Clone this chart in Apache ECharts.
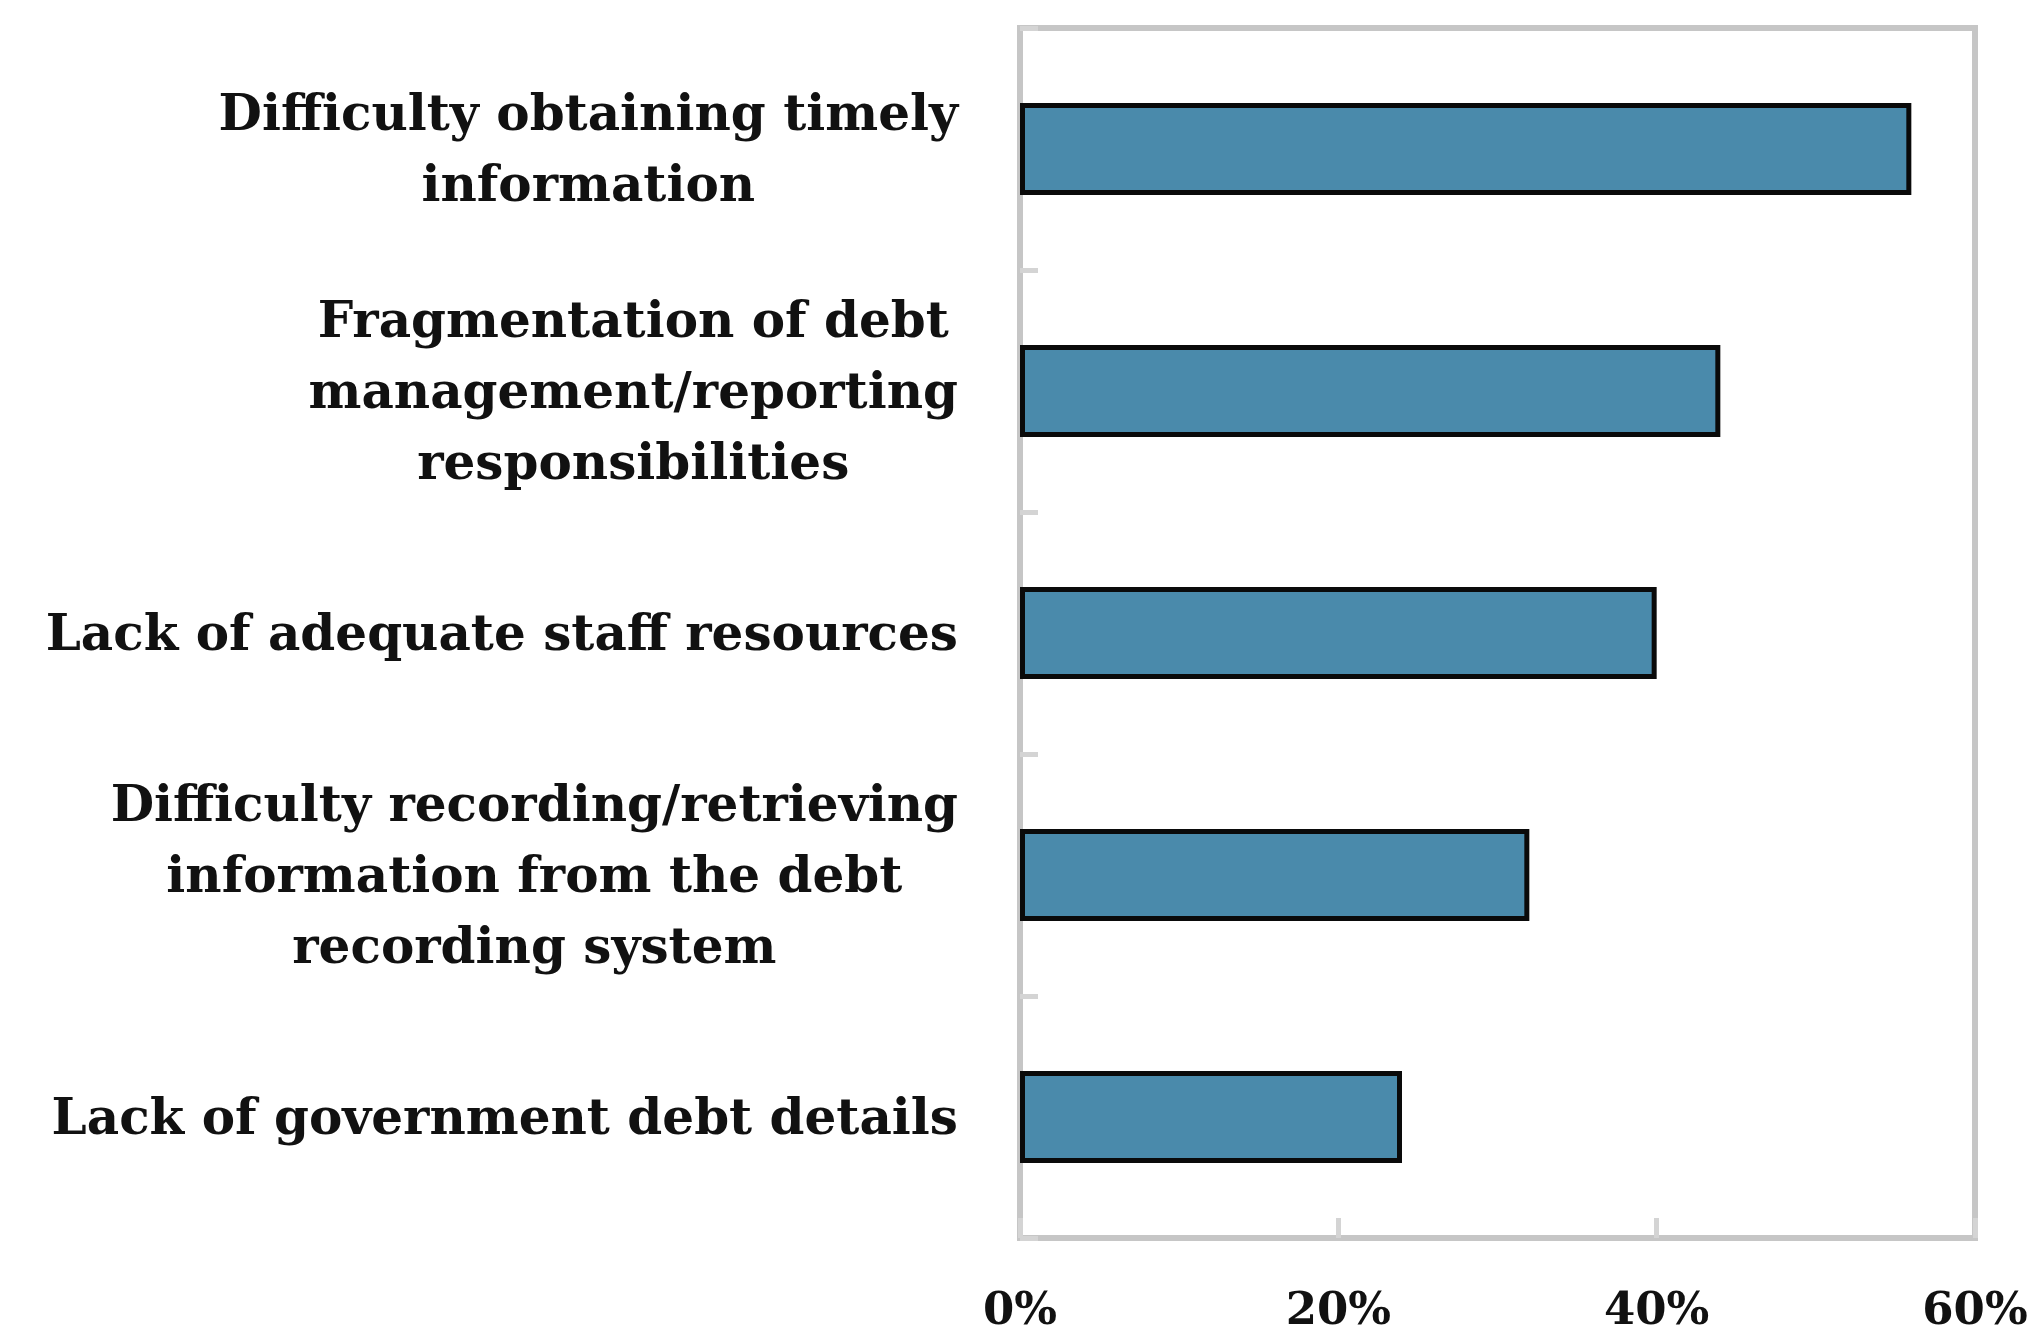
<!DOCTYPE html>
<html>
<head>
<meta charset="utf-8">
<script src="https://cdn.jsdelivr.net/npm/echarts@6/dist/echarts.min.js"></script>
<style>
html,body{margin:0;padding:0;background:#fff;}
#chart{width:2034px;height:1329px;}
</style>
</head>
<body>
<div id="chart"></div>
<script>
const categories = [
  "Difficulty obtaining timely\ninformation",
  "Fragmentation of debt\nmanagement/reporting\nresponsibilities",
  "Lack of adequate staff resources",
  "Difficulty recording/retrieving\ninformation from the debt\nrecording system",
  "Lack of government debt details"
];
const values = [56, 44, 40, 32, 24];
const xTicks = { min: 0, max: 60, interval: 20 };

const FONT = "DejaVu Serif";
const chart = echarts.init(document.getElementById('chart'), null, {renderer: 'canvas'});
chart.setOption({
  backgroundColor: '#ffffff',
  animation: false,
  grid: {
    left: 1020, top: 28, width: 955, height: 1210,
    outerBoundsMode: 'none', containLabel: false,
    show: true, borderColor: '#c6c6c6', borderWidth: 6, backgroundColor: 'transparent'
  },
  xAxis: {
    type: 'value',
    min: xTicks.min, max: xTicks.max, interval: xTicks.interval,
    axisLine: {show: true, lineStyle: {color: '#c6c6c6', width: 6}},
    axisTick: {show: true, inside: true, length: 20, lineStyle: {color: '#d4d4d4', width: 5}},
    splitLine: {show: false},
    axisLabel: {
      formatter: '{value}%', margin: 52,
      fontFamily: FONT, fontWeight: 'bold', fontSize: 45, color: '#111'
    }
  },
  yAxis: {
    type: 'category', inverse: true, data: categories,
    axisLine: {show: true, lineStyle: {color: '#c6c6c6', width: 6}},
    axisTick: {show: true, inside: true, length: 18, lineStyle: {color: '#d4d4d4', width: 5}},
    axisLabel: {
      margin: 62, align: 'right',
      formatter: function (v) {
        return v.split('\n').map(function (s) { return '{c|' + s + '}'; }).join('\n');
      },
      rich: {
        c: {align: 'center', fontFamily: FONT, fontWeight: 'bold', fontSize: 50, lineHeight: 71, color: '#111', padding: [8, 0, 0, 0]}
      }
    }
  },
  series: [{
    type: 'bar',
    data: values,
    barWidth: '38%',
    itemStyle: {color: '#4a8aab', borderColor: '#0a0a0a', borderWidth: 5}
  }]
});
</script>
</body>
</html>
